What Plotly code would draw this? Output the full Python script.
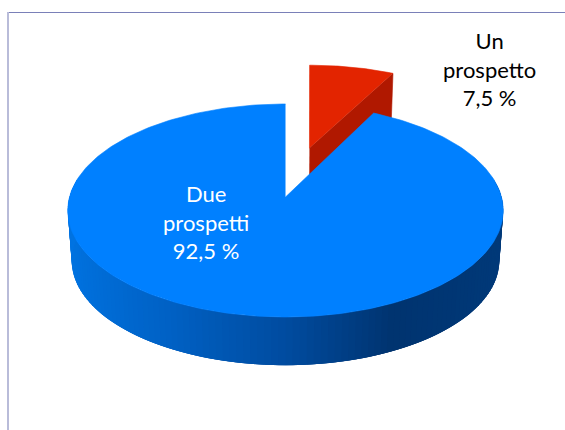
import numpy as np
import plotly.graph_objects as go

# Share of the sample by number of prospects
categories = ["Due<br>prospetti", "Un<br>prospetto"]
shares = [92.5, 7.5]
share_labels = ["92,5 %", "7,5 %"]

BLUE_TOP = "#0080FF"
RED_TOP = "#E32400"
RED_WALL = "#B01800"
# Wall shading stops: 0 at the left edge of the disc, 1 at the right edge
WALL_POS = [0.0, 0.25, 0.5, 0.72, 1.0]
WALL_RGB = [(0, 116, 226), (0, 98, 198), (0, 76, 160), (0, 52, 112), (0, 58, 122)]

# Perspective camera, in page pixels
CX, CY = 285.5, 197.0
SCALE_X, SCALE_Y, PERSP = 216.0, 104.8, 0.1266
WALL_DROP, WALL_SHRINK = 50.4, 0.982
EXPLODE = 0.51
RED_LEAN = 2.7  # keeps the exploded slice's near edge upright on the page


def project(x, y):
    w = 1 + PERSP * y
    return SCALE_X * x / w, -SCALE_Y * y / w


def top(x, y):
    sx, sy = project(x, y)
    return CX + sx, CY + sy


def base(x, y):
    sx, sy = project(x, y)
    return CX + WALL_SHRINK * sx, CY + WALL_DROP + WALL_SHRINK * sy


def lean(y):
    return RED_LEAN * (np.asarray(y) - 0.76) + 0.5


def polygon(xs, ys, color, stroke=0.6):
    return go.Scatter(
        x=list(xs), y=list(ys), mode="lines", fill="toself", fillcolor=color,
        line=dict(color=color, width=stroke), hoverinfo="skip", showlegend=False,
    )


fig = go.Figure()

# Slice angles run clockwise from twelve o'clock; the small slice comes first
total = sum(shares)
red_span = 2 * np.pi * shares[1] / total
mid = red_span / 2
ox, oy = EXPLODE * np.sin(mid), EXPLODE * np.cos(mid)

# Exploded slice: cut wall, then top face
ex, ey = np.sin(red_span) + ox, np.cos(red_span) + oy
wx, wy = np.array([ox, ex]), np.array([oy, ey])
tx, ty = top(wx, wy)
bx, by = base(wx, wy)
fig.add_trace(polygon(np.r_[tx, bx[::-1]] + np.r_[lean(wy), lean(wy[::-1])],
                      np.r_[ty, by[::-1]], RED_WALL))
t = np.linspace(0, red_span, 40)
ax, ay = np.r_[ox, ox + np.sin(t)], np.r_[oy, oy + np.cos(t)]
tx, ty = top(ax, ay)
fig.add_trace(polygon(tx + lean(ay), ty, RED_TOP))

# Outer wall of the large slice: overlapping strips painted right to left,
# each one covering the start of the last so no seams show between them
angles = np.linspace(np.radians(80), np.radians(280), 121)
for i in range(len(angles) - 1):
    seg = angles[i:i + 4]
    xs, ys = np.sin(seg), np.cos(seg)
    tx, ty = top(xs, ys)
    bx, by = base(xs, ys)
    f = (1 + np.sin((angles[i] + angles[i + 1]) / 2)) / 2
    rgb = [np.interp(f, WALL_POS, [c[j] for c in WALL_RGB]) for j in range(3)]
    color = "rgb(%d,%d,%d)" % tuple(rgb)
    fig.add_trace(polygon(np.r_[tx, bx[::-1]], np.r_[ty, by[::-1]], color, stroke=0))

# Top face of the large slice
t = np.linspace(red_span, 2 * np.pi, 300)
tx, ty = top(np.r_[0.0, np.sin(t)], np.r_[0.0, np.cos(t)])
fig.add_trace(polygon(tx, ty, BLUE_TOP))

fig.add_annotation(x=205.5, y=221.5, text=f"{categories[0]}<br>{share_labels[0]}",
                   showarrow=False, font=dict(color="white", size=22))
fig.add_annotation(x=489.5, y=68.5, text=f"{categories[1]}<br>{share_labels[1]}",
                   showarrow=False, font=dict(color="black", size=22))

# Slide frame: top rule and left rule
fig.add_shape(type="line", x0=8, x1=565, y0=12.5, y1=12.5,
              line=dict(color="#7A80B8", width=1))
fig.add_shape(type="line", x0=8, x1=8, y0=12, y1=430,
              line=dict(color="#B9BCD9", width=2))

fig.update_layout(
    width=565, height=430, margin=dict(l=0, r=0, t=0, b=0),
    paper_bgcolor="white", plot_bgcolor="white", showlegend=False,
    font=dict(family="Lato, Carlito, sans-serif"),
    xaxis=dict(range=[0, 565], visible=False, fixedrange=True),
    yaxis=dict(range=[430, 0], visible=False, fixedrange=True),
)
fig.write_html("out.html", config={"displayModeBar": False})
